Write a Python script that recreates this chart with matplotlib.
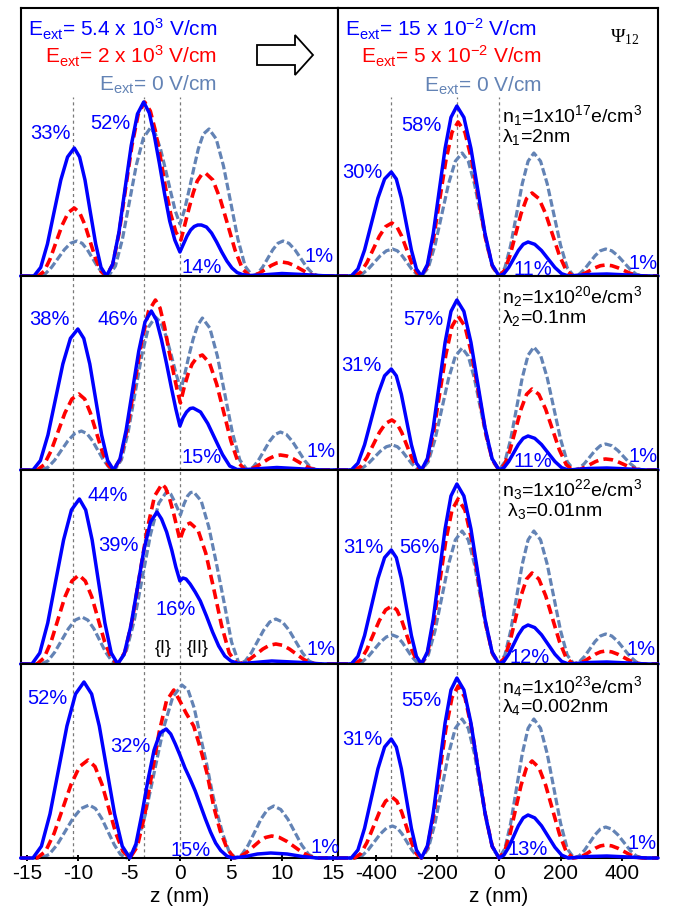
import matplotlib
matplotlib.use('Agg')
import matplotlib.pyplot as plt
from matplotlib.patches import Polygon

plt.rcParams['font.family'] = ['Liberation Sans', 'DejaVu Sans']
plt.rcParams['mathtext.fontset'] = 'custom'
plt.rcParams['mathtext.rm'] = 'Liberation Sans'
plt.rcParams['mathtext.it'] = 'Liberation Sans:italic'
plt.rcParams['mathtext.default'] = 'regular'
plt.rcParams['axes.unicode_minus'] = False
plt.rcParams['lines.scale_dashes'] = False

# ---------------- DATA ----------------
# Left column: z in nm ; y = probability density (arbitrary units)
zL1_blue = [-15.6, -14.5, -14.3, -13.64, -12.98, -12.33, -11.67, -11.01, -10.35, -9.83, -9.30, -8.78, -8.25, -7.73, -7.2,
            -6.59, -5.98, -5.38, -4.77, -4.16, -3.55, -3.0, -2.5, -2.0, -1.5, -1.0, -0.5, 0.0, 0.35, 0.7, 1.05, 1.4, 1.75, 2.1,
            2.6, 3.1, 3.6, 4.1, 4.6, 5.1, 5.6, 6.1, 6.75, 8.0, 10.0, 12.0, 14.0, 15.5]
yL1_blue = [0, 0, 0, 8.6, 32, 64, 96, 119, 128, 119, 96, 64, 32, 8.6, 0,
            11.7, 43.5, 87, 130.5, 162, 174, 163, 140, 112, 82, 55, 36, 24, 32, 40, 46, 49.5, 51, 51,
            49, 43, 34, 24, 15, 8, 3.5, 1.5, 0.5, 1, 2.5, 1.5, 0.3, 0]
zL1_red = [-15.6, -13.9, -13.31, -12.72, -12.13, -11.53, -10.94, -10.35, -9.83, -9.30, -8.78, -8.25, -7.73, -7.2,
           -6.58, -5.95, -5.33, -4.7, -4.08, -3.45, -2.9, -2.4, -1.9, -1.4, -0.9, -0.4, 0.1, 0.5, 0.9, 1.3, 1.7, 2.1, 2.5,
           3.23, 3.95, 4.68, 5.4, 6.13, 6.85, 7.38, 7.9, 8.43, 8.95, 9.48, 10.0, 10.6, 11.2, 11.8, 12.4, 13.0, 13.6, 15.5]
yL1_red = [0, 0, 4.6, 17, 34, 51, 63.4, 68, 63.4, 51, 34, 17, 4.6, 0,
           11.7, 43.5, 87, 130.5, 162, 174, 165, 145, 118, 88, 62, 44, 36, 52, 68, 83, 95, 101, 103,
           96, 77, 51.5, 26, 7, 0, 0.9, 3.5, 7, 10.5, 13, 14, 13, 10.5, 7, 3.5, 0.9, 0, 0]
zL1_gray = [-15.6, -13.8, -13.18, -12.57, -11.95, -11.33, -10.72, -10.1, -9.58, -9.07, -8.55, -8.03, -7.52, -7.0,
            -6.32, -5.63, -4.95, -4.27, -3.58, -2.9, -2.4, -1.9, -1.4, -0.9, -0.45, 0.0, 0.45, 0.9, 1.35, 1.8, 2.3, 2.85,
            3.56, 4.27, 4.98, 5.68, 6.39, 7.1, 7.6, 8.1, 8.6, 9.1, 9.6, 10.1, 10.68, 11.27, 11.85, 12.43, 13.02, 13.6, 15.5]
yL1_gray = [0, 0, 2.3, 8.75, 17.5, 26.25, 32.7, 35, 32.7, 26.25, 17.5, 8.75, 2.3, 0,
            9.9, 37, 74, 111, 138, 148, 142, 127, 106, 84, 65, 52, 66, 86, 107, 127, 142, 147,
            137, 110, 73.5, 37, 9.8, 0, 2.3, 8.75, 17.5, 26.25, 32.7, 35, 32.7, 26.25, 17.5, 8.75, 2.3, 0, 0]

zL2_blue = [-15.6, -14.4, -13.67, -12.93, -12.2, -11.47, -10.73, -10.0, -9.42, -8.83, -8.25, -7.67, -7.08, -6.5,
            -5.88, -5.27, -4.65, -4.03, -3.42, -2.8, -2.3, -1.8, -1.3, -0.85, -0.4, 0.0, 0.3, 0.65, 1.0, 1.3,
            2.02, 2.73, 3.45, 4.17, 4.88, 5.6, 6.5, 9.5, 12.5, 14.0, 15.5]
yL2_blue = [0, 0, 9.4, 35, 70.5, 106, 131.6, 141, 131.6, 106, 70.5, 35, 9.4, 0,
            10.7, 39.75, 79.5, 119, 148, 159, 150, 130, 106, 83, 61, 44, 52, 58, 61.5, 62,
            58, 46.5, 31, 15.5, 4, 0.5, 0.5, 2.5, 0.8, 0, 0]
zL2_red = [-15.6, -14.0, -13.32, -12.63, -11.95, -11.27, -10.58, -9.9, -9.33, -8.77, -8.2, -7.63, -7.07, -6.5,
           -5.82, -5.13, -4.45, -3.77, -3.08, -2.4, -1.95, -1.5, -1.05, -0.6, -0.25, 0.05, 0.4, 0.8, 1.2, 1.7, 2.2,
           2.9, 3.6, 4.3, 5.0, 5.7, 6.4, 6.98, 7.55, 8.13, 8.7, 9.28, 9.85, 10.48, 11.1, 11.73, 12.35, 12.98, 13.6, 15.5]
yL2_red = [0, 0, 5.1, 19, 38, 57, 71, 76, 71, 57, 38, 19, 5.1, 0,
           11.4, 42.5, 85, 127.5, 158.6, 170, 162, 143, 118, 96, 79, 67, 82, 96, 106, 113, 115,
           107, 86, 57.5, 29, 7.7, 0, 1, 3.75, 7.5, 11.25, 14, 15, 14, 11.25, 7.5, 3.75, 1, 0, 0]
zL2_gray = [-15.6, -13.6, -12.94, -12.28, -11.63, -10.97, -10.31, -9.65, -9.11, -8.57, -8.03, -7.48, -6.94, -6.4,
            -5.73, -5.07, -4.4, -3.73, -3.07, -2.4, -1.9, -1.4, -0.9, -0.4, 0.1, 0.5, 0.9, 1.3, 1.75, 2.2,
            2.93, 3.67, 4.4, 5.13, 5.87, 6.6, 7.14, 7.68, 8.23, 8.77, 9.31, 9.85, 10.44, 11.03, 11.63, 12.22, 12.81, 13.4, 15.5]
yL2_gray = [0, 0, 2.6, 9.75, 19.5, 29.25, 36.4, 39, 36.4, 29.25, 19.5, 9.75, 2.6, 0,
            10.2, 38, 76.5, 115, 143, 153, 148, 135, 117, 97, 80, 97, 115, 131, 145, 152,
            142, 114, 76, 38, 10, 0, 2.5, 9.5, 19, 28.5, 35.5, 38, 35.5, 28.5, 19, 9.5, 2.5, 0, 0]

zL3_blue = [-15.6, -14.5, -13.73, -12.95, -12.18, -11.4, -10.63, -9.85, -9.23, -8.6, -7.98, -7.35, -6.73, -6.1,
            -5.46, -4.81, -4.17, -3.53, -2.88, -2.24, -1.8, -1.3, -0.8, -0.4, 0.0, 0.3, 0.6, 1.0, 1.5, 2.0,
            2.6, 3.2, 3.8, 4.4, 5.0, 5.7, 6.5, 9.0, 12.0, 14.0, 15.5]
yL3_blue = [0, 0, 11, 41, 82.5, 124, 154, 165, 154, 124, 82.5, 41, 11, 0,
            10, 38, 76, 114, 142, 152, 145, 132, 114, 97, 83, 86, 85, 80, 72, 63,
            48, 32, 18, 8, 3, 0.5, 0.8, 3, 1.5, 0, 0]
zL3_red = [-15.6, -14.0, -13.32, -12.63, -11.95, -11.27, -10.58, -9.9, -9.27, -8.63, -8.0, -7.37, -6.73, -6.1,
           -5.38, -4.65, -3.93, -3.2, -2.48, -1.75, -1.4, -1.0, -0.6, -0.3, 0.0, 0.3, 0.6, 1.0,
           1.77, 2.53, 3.3, 4.07, 4.83, 5.6, 6.23, 6.87, 7.5, 8.13, 8.77, 9.4, 10.07, 10.73, 11.4, 12.07, 12.73, 13.4, 15.5]
yL3_red = [0, 0, 6, 22, 44.5, 67, 83, 89, 83, 67, 44.5, 22, 6, 0,
           12, 45, 90, 135, 168, 180, 176, 165, 150, 137, 124, 133, 139, 141,
           134, 111, 76, 39, 11, 0, 1.3, 5, 10, 15, 18.7, 20, 18.7, 15, 10, 5, 1.3, 0, 0]
zL3_gray = [-15.6, -13.6, -12.93, -12.27, -11.6, -10.93, -10.27, -9.6, -9.02, -8.43, -7.85, -7.27, -6.68, -6.1,
            -5.29, -4.48, -3.68, -2.87, -2.06, -1.25, -0.9, -0.55, -0.25, 0.05, 0.4, 0.75, 1.05, 1.35,
            2.09, 2.83, 3.57, 4.32, 5.06, 5.8, 6.4, 7.0, 7.6, 8.2, 8.8, 9.4, 10.05, 10.7, 11.35, 12.0, 12.65, 13.3, 15.5]
yL3_gray = [0, 0, 3.1, 11.75, 23.5, 35.25, 43.9, 47, 43.9, 35.25, 23.5, 11.75, 3.1, 0,
            11.6, 43, 86.5, 130, 161, 173, 170, 163, 156, 149, 160, 168, 171.5, 172,
            163, 137, 101, 62, 22, 0, 3, 11.25, 22.5, 33.75, 42, 45, 42, 33.75, 22.5, 11.25, 3, 0, 0]

zL4_blue = [-15.6, -14.4, -13.57, -12.73, -11.9, -11.07, -10.23, -9.4, -8.65, -7.9, -7.15, -6.4, -5.65, -4.9,
            -4.31, -3.72, -3.13, -2.53, -1.94, -1.35, -0.9, -0.45, 0.0, 0.5, 1.0, 1.5, 2.0, 2.5, 3.0, 3.5, 4.0, 4.6, 5.15,
            6.4, 7.6, 8.9, 10.5, 12.0, 13.5, 15.5]
yL4_blue = [0, 0, 11.8, 44, 88, 132, 164, 176, 164, 132, 88, 44, 11.8, 0,
            14, 44, 78, 108, 125, 129, 124, 114, 103, 90, 79, 67, 53, 39, 26, 15, 7.5, 2, 0,
            1.5, 4, 5, 4, 1.5, 0, 0]
zL4_red = [-15.6, -14.0, -13.17, -12.33, -11.5, -10.67, -9.83, -9.0, -8.32, -7.63, -6.95, -6.27, -5.58, -4.9,
           -4.18, -3.47, -2.75, -2.03, -1.32, -0.6, 0.0, 0.6, 1.35, 2.0, 2.65, 3.3, 3.95, 4.6, 5.3,
           5.92, 6.53, 7.15, 7.77, 8.38, 9.0, 9.75, 10.5, 11.25, 12.0, 12.75, 13.5, 15.5]
yL4_red = [0, 0, 6.6, 24.5, 49, 73.5, 91.4, 98, 91.4, 73.5, 49, 24.5, 6.6, 0,
           11.3, 42, 84, 126, 157, 168, 157, 145, 132, 110, 85, 52, 27, 10, 0,
           1.5, 5.5, 11, 16.5, 20.5, 22, 20.5, 16.5, 11, 5.5, 1.5, 0, 0]
zL4_gray = [-15.6, -13.6, -12.82, -12.03, -11.25, -10.47, -9.68, -8.9, -8.28, -7.67, -7.05, -6.43, -5.82, -5.2,
            -4.3, -3.4, -2.5, -1.6, -0.7, 0.2, 0.8, 1.4, 2.0, 2.6, 3.2, 3.65, 4.2, 4.8, 5.45,
            6.08, 6.7, 7.33, 7.95, 8.58, 9.2, 9.88, 10.57, 11.25, 11.93, 12.62, 13.3, 15.5]
yL4_gray = [0, 0, 3.5, 13.25, 26.5, 39.75, 49.5, 53, 49.5, 39.75, 26.5, 13.25, 3.5, 0,
            11.5, 43, 86.5, 130, 161, 173, 168, 150, 122, 95, 64, 45, 24, 7, 0,
            3.5, 13, 26, 39, 48.5, 52, 48.5, 39, 26, 13, 3.5, 0, 0]

# Right column: z in nm (shared z samples per field value), y for rows 1..4
zR_blue = [-522, -480, -458.3, -436.7, -415, -393.3, -371.7, -350, -333.7, -317.3, -301, -284.7, -268.3, -252,
           -232.8, -213.7, -194.5, -175.3, -156.2, -137, -114.2, -91.3, -68.5, -45.7, -22.8, 0,
           15.7, 31.3, 47, 62.7, 78.3, 94, 115.8, 137.7, 159.5, 181.3, 203.2, 225, 290, 350, 420, 480, 516]
yR1_blue = [0, 0, 7, 26, 52, 78, 97, 104, 97, 78, 52, 26, 7, 0,
            11.4, 42.5, 85, 127.5, 158.6, 170, 158.6, 127.5, 85, 42.5, 11.4, 0,
            2.3, 8.5, 17, 25.5, 31.7, 34, 31.7, 25.5, 17, 8.5, 2.3, 0, 1.5, 2, 1, 0, 0]
yR2_blue = [0, 0, 6.8, 25.25, 50.5, 75.75, 94.2, 101, 94.2, 75.75, 50.5, 25.25, 6.8, 0,
            11.4, 42.5, 85, 127.5, 158.6, 170, 158.6, 127.5, 85, 42.5, 11.4, 0,
            2.3, 8.5, 17, 25.5, 31.7, 34, 31.7, 25.5, 17, 8.5, 2.3, 0, 1.5, 2, 1, 0, 0]
yR3_blue = [0, 0, 7.6, 28.5, 57, 85.5, 106.4, 114, 106.4, 85.5, 57, 28.5, 7.6, 0,
            12, 45, 90, 135, 168, 180, 168, 135, 90, 45, 12, 0,
            2.6, 9.75, 19.5, 29.25, 36.4, 39, 36.4, 29.25, 19.5, 9.75, 2.6, 0, 1.5, 2, 1, 0, 0]
yR4_blue = [0, 0, 8, 29.75, 59.5, 89.25, 111, 119, 111, 89.25, 59.5, 29.75, 8, 0,
            12, 45, 90, 135, 168, 180, 168, 135, 90, 45, 12, 0,
            2.9, 10.75, 21.5, 32.25, 40.1, 43, 40.1, 32.25, 21.5, 10.75, 2.9, 0, 1.5, 2, 1, 0, 0]

zR_red = [-522, -470, -449.7, -429.3, -409, -388.7, -368.3, -348, -332, -316, -300, -284, -268, -252,
          -232.2, -212.3, -192.5, -172.7, -152.8, -133, -110.8, -88.7, -66.5, -44.3, -22.2, 0,
          17.8, 35.7, 53.5, 71.3, 89.2, 107, 129.2, 151.3, 173.5, 195.7, 217.8, 240,
          261.8, 278.7, 295.5, 312.3, 329.2, 346, 365.8, 385.7, 405.5, 425.3, 445.2, 465, 516]
yR1_red = [0, 0, 3.6, 13.25, 26.5, 39.75, 49.4, 53, 49.4, 39.75, 26.5, 13.25, 3.6, 0,
           10.3, 38.5, 77, 115.5, 143.7, 154, 143.7, 115.5, 77, 38.5, 10.3, 0,
           5.6, 20.75, 41.5, 62.25, 77.4, 83, 77.4, 62.25, 41.5, 20.75, 5.6, 0,
           0.7, 2.75, 5.5, 8.25, 10.3, 11, 10.3, 8.25, 5.5, 2.75, 0.7, 0, 0]
yR2_red = [0, 0, 3.35, 12.5, 25, 37.5, 46.65, 50, 46.65, 37.5, 25, 12.5, 3.35, 0,
           10.3, 38.5, 77, 115.5, 143.7, 154, 143.7, 115.5, 77, 38.5, 10.3, 0,
           5.4, 20.25, 40.5, 60.75, 75.6, 81, 75.6, 60.75, 40.5, 20.25, 5.4, 0,
           0.7, 2.75, 5.5, 8.25, 10.3, 11, 10.3, 8.25, 5.5, 2.75, 0.7, 0, 0]
yR3_red = [0, 0, 3.9, 14.5, 29, 43.5, 54.1, 58, 54.1, 43.5, 29, 14.5, 3.9, 0,
           11, 41.25, 82.5, 123.75, 154, 165, 154, 123.75, 82.5, 41.25, 11, 0,
           6.1, 22.75, 45.5, 68.25, 84.9, 91, 84.9, 68.25, 45.5, 22.75, 6.1, 0,
           0.9, 3.25, 6.5, 9.75, 12.1, 13, 12.1, 9.75, 6.5, 3.25, 0.9, 0, 0]
yR4_red = [0, 0, 4.1, 15.25, 30.5, 45.75, 56.9, 61, 56.9, 45.75, 30.5, 15.25, 4.1, 0,
           11.5, 43, 86, 129, 160.5, 172, 160.5, 129, 86, 43, 11.5, 0,
           6.5, 24.25, 48.5, 72.75, 90.5, 97, 90.5, 72.75, 48.5, 24.25, 6.5, 0,
           0.9, 3.25, 6.5, 9.75, 12.1, 13, 12.1, 9.75, 6.5, 3.25, 0.9, 0, 0]

zR_gray = [-522, -465, -445.2, -425.3, -405.5, -385.7, -365.8, -346, -330.3, -314.7, -299, -283.3, -267.7, -252,
           -230, -208, -186, -164, -142, -120, -100, -80, -60, -40, -20, 0,
           18.8, 37.7, 56.5, 75.3, 94.2, 113, 134.7, 156.3, 178, 199.7, 221.3, 243,
           260.2, 277.3, 294.5, 311.7, 328.8, 346, 365.8, 385.7, 405.5, 425.3, 445.2, 465, 516]
yR1_gray = [0, 0, 1.8, 6.75, 13.5, 20.25, 25.2, 27, 25.2, 20.25, 13.5, 6.75, 1.8, 0,
            8.2, 30.75, 61.5, 92.25, 114.8, 123, 114.8, 92.25, 61.5, 30.75, 8.2, 0,
            8.2, 30.75, 61.5, 92.25, 114.8, 123, 114.8, 92.25, 61.5, 30.75, 8.2, 0,
            1.8, 6.75, 13.5, 20.25, 25.2, 27, 25.2, 20.25, 13.5, 6.75, 1.8, 0, 0]
yR2_gray = [0, 0, 1.7, 6.25, 12.5, 18.75, 23.3, 25, 23.3, 18.75, 12.5, 6.25, 1.7, 0,
            8.2, 30.5, 61, 91.5, 113.8, 122, 113.8, 91.5, 61, 30.5, 8.2, 0,
            8.2, 30.75, 61.5, 92.25, 114.8, 123, 114.8, 92.25, 61.5, 30.75, 8.2, 0,
            1.7, 6.5, 13, 19.5, 24.3, 26, 24.3, 19.5, 13, 6.5, 1.7, 0, 0]
yR3_gray = [0, 0, 1.9, 7.25, 14.5, 21.75, 27.1, 29, 27.1, 21.75, 14.5, 7.25, 1.9, 0,
            8.9, 33.25, 66.5, 99.75, 124.1, 133, 124.1, 99.75, 66.5, 33.25, 8.9, 0,
            8.9, 33.25, 66.5, 99.75, 124.1, 133, 124.1, 99.75, 66.5, 33.25, 8.9, 0,
            2, 7.5, 15, 22.5, 28, 30, 28, 22.5, 15, 7.5, 2, 0, 0]
yR4_gray = [0, 0, 2.1, 8, 16, 24, 29.9, 32, 29.9, 24, 16, 8, 2.1, 0,
            9.3, 34.75, 69.5, 104.25, 129.7, 139, 129.7, 104.25, 69.5, 34.75, 9.3, 0,
            9.3, 34.75, 69.5, 104.25, 129.7, 139, 129.7, 104.25, 69.5, 34.75, 9.3, 0,
            2.1, 7.75, 15.5, 23.25, 28.9, 31, 28.9, 23.25, 15.5, 7.75, 2.1, 0, 0]

# Percent labels per panel: (text, x_px, baseline_px)
pct_left = [
    [("33%", 50.5, 139), ("52%", 110.5, 129), ("14%", 202, 273), ("1%", 319, 262)],
    [("38%", 49, 325), ("46%", 117.5, 325), ("15%", 201.5, 463), ("1%", 321.5, 457)],
    [("44%", 108, 501), ("39%", 118.5, 551), ("16%", 175.5, 615), ("1%", 321.5, 655)],
    [("52%", 47.5, 704), ("32%", 130.5, 752), ("15%", 191, 856), ("1%", 325, 853)],
]
pct_right = [
    [("58%", 421, 131), ("30%", 362.5, 178), ("11%", 532.5, 275), ("1%", 643.5, 269)],
    [("57%", 423.5, 325), ("31%", 361, 371), ("11%", 532.5, 467), ("1%", 643.5, 462)],
    [("31%", 363, 553), ("56%", 419.5, 553), ("12%", 530, 663), ("1%", 641.5, 655)],
    [("55%", 421, 706), ("31%", 362, 745), ("13%", 528, 855), ("1%", 642.5, 849)],
]
density_labels = ["n$_1$=1x10$^{17}$e/cm$^3$", "n$_2$=1x10$^{20}$e/cm$^3$",
                  "n$_3$=1x10$^{22}$e/cm$^3$", "n$_4$=1x10$^{23}$e/cm$^3$"]
lambda_labels = ["λ$_1$=2nm", "λ$_2$=0.1nm", " λ$_3$=0.01nm", "λ$_4$=0.002nm"]
ann_pos = [(502, 122, 142), (502, 303, 323), (502, 496, 516), (502, 693, 712)]

left_ticks = [-15, -10, -5, 0, 5, 10, 15]
right_ticks = [-400, -200, 0, 200, 400]
left_marks = [-10.5, -3.5, 0]
right_marks = [-350, -137, 0]

# ---------------- FIGURE ----------------
W, H = 674, 910
fig = plt.figure(figsize=(W / 100, H / 100), dpi=100)
gs = fig.add_gridspec(4, 2, left=20.7 / W, right=658 / W, top=1 - 8 / H, bottom=1 - 858 / H,
                      hspace=0, wspace=0, height_ratios=[268, 194, 194, 194], width_ratios=[317.6, 319.7])

BLUE = '#0000FF'
RED = '#FF0000'
GRAY = '#6383B5'

left_data = [(zL1_blue, yL1_blue, zL1_red, yL1_red, zL1_gray, yL1_gray),
             (zL2_blue, yL2_blue, zL2_red, yL2_red, zL2_gray, yL2_gray),
             (zL3_blue, yL3_blue, zL3_red, yL3_red, zL3_gray, yL3_gray),
             (zL4_blue, yL4_blue, zL4_red, yL4_red, zL4_gray, yL4_gray)]
right_data = [(zR_blue, yR1_blue, zR_red, yR1_red, zR_gray, yR1_gray),
              (zR_blue, yR2_blue, zR_red, yR2_red, zR_gray, yR2_gray),
              (zR_blue, yR3_blue, zR_red, yR3_red, zR_gray, yR3_gray),
              (zR_blue, yR4_blue, zR_red, yR4_red, zR_gray, yR4_gray)]


def fpos(x, y):
    return x / W, 1 - y / H


for r in range(4):
    ytop = 268 if r == 0 else 194
    for c in range(2):
        ax = fig.add_subplot(gs[r, c])
        zb, yb, zr, yr, zg, yg = (left_data if c == 0 else right_data)[r]
        ax.set_xlim(*((-15.6, 15.52) if c == 0 else (-522, 516)))
        ax.set_ylim(0, ytop)
        marks = left_marks if c == 0 else right_marks
        vtop = 179 / 268 if r == 0 else 1.0
        for m in marks:
            ax.axvline(m, ymin=0, ymax=vtop, color='#7a7a7a', lw=0.9, ls=(0, (2.2, 2.2)), zorder=1)
        ax.plot(zg, yg, color=GRAY, lw=2.3, dashes=(5.5, 2.2), clip_on=False, zorder=2,
                dash_joinstyle='round')
        ax.plot(zr, yr, color=RED, lw=2.6, dashes=(7.0, 3.8), clip_on=False, zorder=3,
                dash_joinstyle='round')
        ax.plot(zb, yb, color=BLUE, lw=2.5, clip_on=False, zorder=4, solid_capstyle='round',
                solid_joinstyle='round')
        ax.set_yticks([])
        for s in ax.spines.values():
            s.set_linewidth(1.5)
        if r == 3:
            ax.set_xticks(left_ticks if c == 0 else right_ticks)
            ax.tick_params(axis='x', direction='inout', length=5, width=1.4, labelsize=15, pad=2)
            ax.set_xlabel('z (nm)', fontsize=15, labelpad=3)
        else:
            ax.set_xticks([])

# percent labels
for row in pct_left + pct_right:
    for s, x, y in row:
        fx, fy = fpos(x, y)
        fig.text(fx, fy, s, color=BLUE, fontsize=14.5, ha='center', va='baseline')

# density / wavelength annotations
for i in range(4):
    x, y1, y2 = ann_pos[i]
    fx, fy = fpos(x, y1)
    fig.text(fx, fy, density_labels[i], color='black', fontsize=14, ha='left', va='baseline')
    fx, fy = fpos(x, y2)
    fig.text(fx, fy, lambda_labels[i], color='black', fontsize=14, ha='left', va='baseline')

# region labels
for s, x in [("{I}", 163), ("{II}", 197.5)]:
    fx, fy = fpos(x, 653)
    fig.text(fx, fy, s, color='black', fontsize=13, ha='center', va='baseline')

# legend-like field labels
fs = 15
fig.text(*fpos(217, 36.5), "E$_{ext}$= 5.4 x 10$^{3}$ V/cm", color=BLUE, fontsize=fs, ha='right', va='baseline')
fig.text(*fpos(217, 63.5), "E$_{ext}$= 2 x 10$^{3}$ V/cm", color=RED, fontsize=fs, ha='right', va='baseline')
fig.text(*fpos(217, 91), "E$_{ext}$= 0 V/cm", color=GRAY, fontsize=fs, ha='right', va='baseline')
fig.text(*fpos(537, 36.5), "E$_{ext}$= 15 x 10$^{-2}$ V/cm", color=BLUE, fontsize=fs, ha='right', va='baseline')
fig.text(*fpos(542, 63.5), "E$_{ext}$= 5 x 10$^{-2}$ V/cm", color=RED, fontsize=fs, ha='right', va='baseline')
fig.text(*fpos(542, 92), "E$_{ext}$= 0 V/cm", color=GRAY, fontsize=fs, ha='right', va='baseline')
fig.text(*fpos(610, 42), "Ψ$_{12}$", color='black', fontsize=14, ha='left', va='baseline',
         family=['Liberation Serif', 'DejaVu Serif'])

# outline arrow
arrow_px = [(257, 45), (295, 45), (295, 35), (313, 55), (295, 75), (295, 65), (257, 65)]
arrow = Polygon([fpos(x, y) for x, y in arrow_px], closed=True, transform=fig.transFigure,
                facecolor='white', edgecolor='black', lw=1.3)
fig.add_artist(arrow)

fig.savefig('out.png', dpi=100)
